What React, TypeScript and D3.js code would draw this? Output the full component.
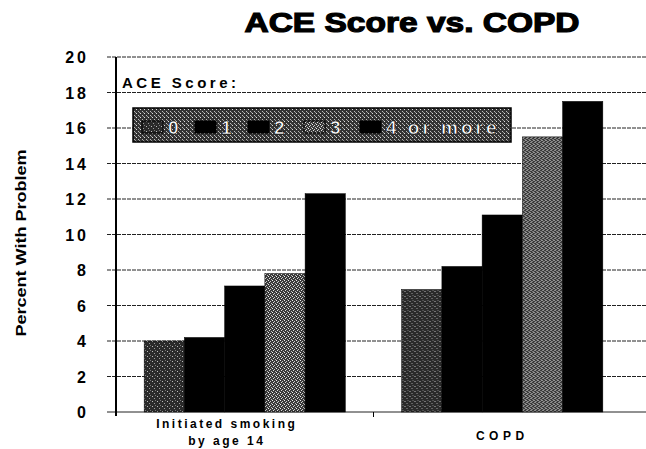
import React from 'react';
import * as d3 from 'd3';

const categories = ['Initiated smoking|by age 14', 'COPD'];
const series = ['0', '1', '2', '3', '4 or more'];
const smokingValues = [4.0, 4.2, 7.1, 7.8, 12.3];
const copdValues = [6.9, 8.2, 11.1, 15.5, 17.5];
const yTicks = [0, 2, 4, 6, 8, 10, 12, 14, 16, 18, 20];

const W = 646;
const H = 449;
const margin = { left: 116, right: 15, top: 57, bottom: 37 };

// fills per ACE score (stippled greys and black)
const fills = ['url(#stip0)', '#000', '#000', 'url(#stip3)', '#000'];

export default function App() {
  const rows = [smokingValues, copdValues];

  const x0 = d3.scaleBand().domain(categories).range([margin.left, W - margin.right]).padding(0);
  const x1 = d3.scaleBand().domain(series).range([0, x0.bandwidth()]).paddingInner(0).paddingOuter(0.7);
  const y = d3.scaleLinear().domain([0, 20]).range([H - margin.bottom, margin.top]);

  const font = 'Liberation Sans, Arial, sans-serif';

  return (
    <svg width={W} height={H} style={{ position: 'absolute', left: 0, top: 0, background: '#fff' }}>
      <defs>
        <pattern id="stip0" width="5" height="5" patternUnits="userSpaceOnUse">
          <rect width="5" height="5" fill="#2a2a2a" />
          <rect x="1" y="1" width="1" height="1" fill="#bbb" />
          <rect x="3" y="3" width="1" height="1" fill="#999" />
          <rect x="4" y="0" width="1" height="1" fill="#777" />
        </pattern>
        <pattern id="stip3" width="4" height="4" patternUnits="userSpaceOnUse">
          <rect width="4" height="4" fill="#3a3a3a" />
          <rect x="0" y="0" width="1" height="1" fill="#eee" />
          <rect x="2" y="1" width="1" height="1" fill="#ccc" />
          <rect x="1" y="2" width="1" height="1" fill="#ddd" />
          <rect x="3" y="3" width="1" height="1" fill="#bbb" />
        </pattern>
        <pattern id="stipL" width="4" height="4" patternUnits="userSpaceOnUse">
          <rect width="4" height="4" fill="#333" />
          <rect x="0" y="1" width="1" height="1" fill="#ddd" />
          <rect x="2" y="3" width="1" height="1" fill="#bbb" />
          <rect x="3" y="0" width="1" height="1" fill="#999" />
        </pattern>
      </defs>

      <text x={412} y={32} textAnchor="middle" fontFamily={font} fontWeight="bold"
        fontSize={28} textLength={335} lengthAdjust="spacingAndGlyphs"
        stroke="#000" strokeWidth={1.2}>ACE Score vs. COPD</text>

      {/* gridlines + y ticks */}
      {yTicks.map(t => (
        <g key={t}>
          <line x1={margin.left - 9} x2={W} y1={y(t)} y2={y(t)} stroke="#222" strokeWidth={1}
            strokeDasharray={t === 0 ? undefined : '4,1'} />
          <text x={89} y={y(t) + 6} textAnchor="end" fontFamily={font} fontWeight="bold"
            fontSize={16} letterSpacing={3}>{t}</text>
        </g>
      ))}

      <line x1={margin.left} x2={margin.left} y1={y(20)} y2={y(0) + 4} stroke="#000" strokeWidth={2} />

      {/* category ticks */}
      {categories.slice(1).map(c => (
        <line key={c} x1={x0(c)!} x2={x0(c)!} y1={y(0)} y2={y(0) + 5} stroke="#000" />
      ))}

      {rows.map((vals, ci) => (
        <g key={ci} transform={`translate(${x0(categories[ci])},0)`}>
          {vals.map((v, si) => (
            <rect key={si} x={x1(series[si])} y={y(v)} width={x1.bandwidth()} height={y(0) - y(v)}
              fill={fills[si]} stroke="#000" strokeWidth={0.5} />
          ))}
        </g>
      ))}

      {/* x labels */}
      {categories.map((c, ci) => {
        const lines = c.split('|');
        const cx = x0(c)! + x0.bandwidth() / 2 + (lines.length > 1 ? -18 : 0);
        return (
          <text key={c} x={cx} y={lines.length > 1 ? 428 : 440} textAnchor="middle" fontFamily={font}
            fontWeight="bold" fontSize={12} letterSpacing={lines.length > 1 ? 2.5 : 4.5}>
            {lines.map((l, li) => (
              <tspan key={li} x={cx} dy={li === 0 ? 0 : 17}>{l}</tspan>
            ))}
          </text>
        );
      })}

      <text transform="translate(26,243) rotate(-90)" textAnchor="middle" fontFamily={font}
        fontWeight="bold" fontSize={14} textLength={187} lengthAdjust="spacingAndGlyphs">Percent With Problem</text>

      {/* legend */}
      <text x={122} y={88} fontFamily={font} fontWeight="bold" fontSize={15} letterSpacing={3.5}>ACE Score:</text>
      <rect x={133} y={108} width={378} height={34} fill="url(#stipL)" stroke="#000" strokeWidth={1.5} />
      {series.map((s, si) => {
        const lx = [142, 195, 248, 304, 360][si];
        return (
          <g key={s}>
            <rect x={lx} y={121} width={21} height={12} fill={fills[si]} stroke="#000" />
            <text x={lx + 26} y={134} fontFamily={font} fontWeight="bold" fontSize={19} fill="#fff"
              stroke="#000" strokeWidth={0.6} letterSpacing={3}>{s}</text>
          </g>
        );
      })}
    </svg>
  );
}
